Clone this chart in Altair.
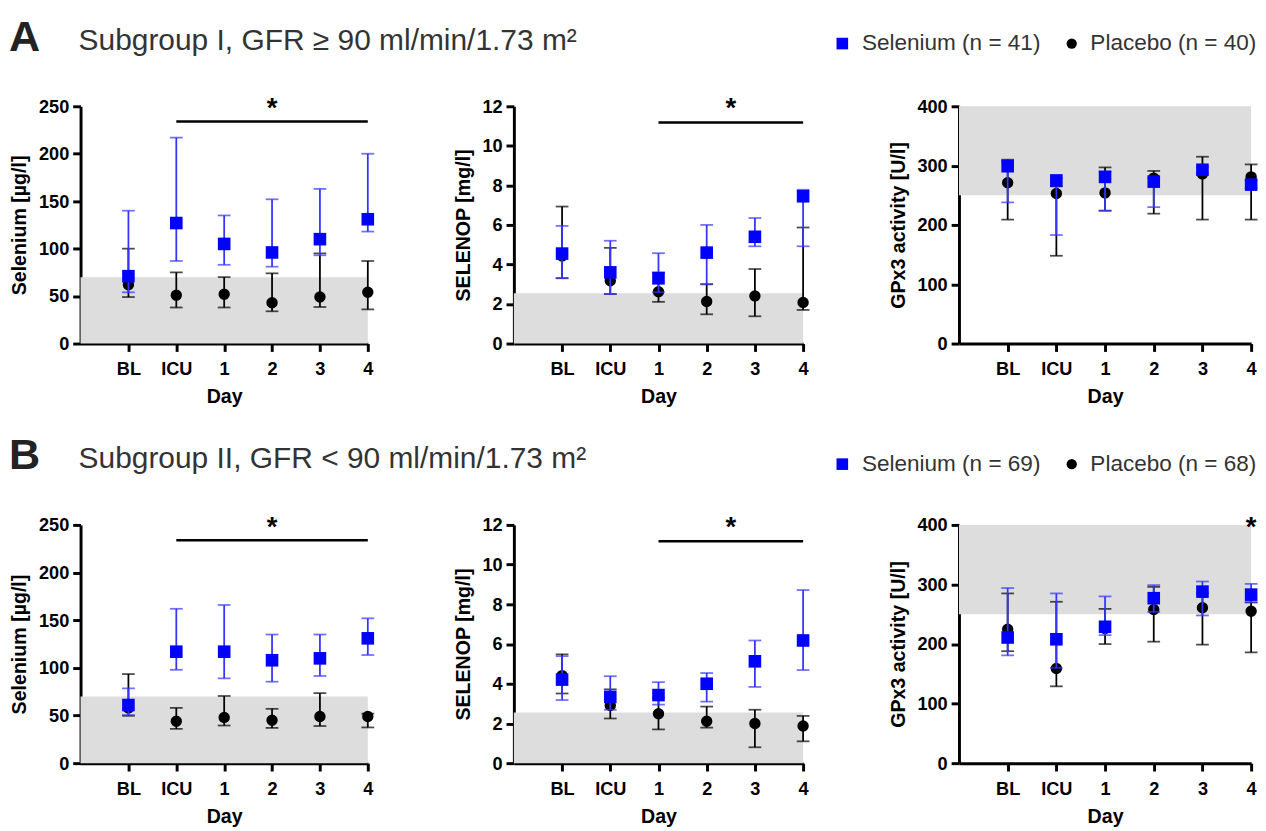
import altair as alt
import pandas as pd

# ---------------- data ----------------
days = ["BL", "ICU", "1", "2", "3", "4"]
day_pos = [1, 2, 3, 4, 5, 6]

# Subgroup I (GFR >= 90) ------------------------------------------
a_se_sel_med = [71, 127, 105, 96, 110, 131]
a_se_sel_lo = [54, 87, 83, 81, 93, 118]
a_se_sel_hi = [140, 217, 135, 152, 163, 200]
a_se_pla_med = [62, 51, 52, 43, 49, 54]
a_se_pla_lo = [49, 38, 38, 34, 38.5, 36]
a_se_pla_hi = [100, 75, 70, 74, 95, 87]

a_sp_sel_med = [4.55, 3.6, 3.3, 4.6, 5.4, 7.45]
a_sp_sel_lo = [3.3, 2.5, 2.6, 3.0, 4.92, 4.92]
a_sp_sel_hi = [5.95, 5.2, 4.57, 6.0, 6.35, 7.78]
a_sp_pla_med = [4.43, 3.18, 2.62, 2.13, 2.41, 2.08]
a_sp_pla_lo = [3.31, 2.5, 2.11, 1.48, 1.38, 1.7]
a_sp_pla_hi = [6.93, 4.84, 3.6, 3.0, 3.77, 5.87]

a_gp_sel_med = [299, 275, 281, 273, 293, 268]
a_gp_sel_lo = [238, 183, 224, 230, 288, 262]
a_gp_sel_hi = [306, 279, 290, 279, 298, 275]
a_gp_pla_med = [271, 253, 254, 279, 286, 281]
a_gp_pla_lo = [209, 148, 224, 219, 209, 209]
a_gp_pla_hi = [310, 265, 297, 291, 315, 302]

# Subgroup II (GFR < 90) ------------------------------------------
b_se_sel_med = [61, 117, 117, 108, 110, 131]
b_se_sel_lo = [50.5, 98, 89, 85.5, 91.5, 113.5]
b_se_sel_hi = [78.5, 162, 166, 135, 135, 152]
b_se_pla_med = [58, 44, 48, 45, 49, 49]
b_se_pla_lo = [49.7, 36, 39.5, 37, 39, 37.5]
b_se_pla_hi = [93.5, 58, 70.5, 57, 73.5, 52]

b_sp_sel_med = [4.21, 3.34, 3.43, 4.0, 5.13, 6.18]
b_sp_sel_lo = [3.18, 2.69, 2.95, 3.1, 3.84, 4.69]
b_sp_sel_hi = [5.39, 4.38, 4.08, 4.54, 6.18, 8.72]
b_sp_pla_med = [4.41, 2.9, 2.49, 2.11, 2.0, 1.87]
b_sp_pla_lo = [3.51, 2.25, 1.7, 1.79, 0.8, 1.1]
b_sp_pla_hi = [5.48, 3.72, 3.3, 2.85, 2.69, 2.38]

b_gp_sel_med = [211, 208, 229, 277, 288, 283]
b_gp_sel_lo = [181, 160, 215, 254, 248, 270]
b_gp_sel_hi = [294, 285, 280, 299, 305, 301]
b_gp_pla_med = [225, 159, 226, 258, 261, 255]
b_gp_pla_lo = [188, 129, 200, 204, 199, 186]
b_gp_pla_hi = [285, 271, 259, 296, 285, 270]

# axes / reference ranges (Selenium, SELENOP, GPx3)
y_titles = ["Selenium [µg/l]", "SELENOP [mg/l]", "GPx3 activity [U/l]"]
y_max = [250, 12, 400]
y_step = [50, 2, 100]
ref_lo = [0, 0, 250]
ref_hi = [70, 2.55, 400]

# significance annotations, order A1 A2 A3 B1 B2 B3
sig_from = [2, 3, None, 2, 3, None]
sig_to = [6, 6, None, 6, 6, None]
sig_level = [234, 11.18, None, 234, 11.18, None]
star_x = [4, 4.5, None, 4, 4.5, 6]

titles = ["Subgroup I, GFR ≥ 90 ml/min/1.73 m²", "Subgroup II, GFR < 90 ml/min/1.73 m²"]
letters = ["A", "B"]
sel_labels = ["Selenium (n = 41)", "Selenium (n = 69)"]
pla_labels = ["Placebo (n = 40)", "Placebo (n = 68)"]

# ---------------- style ----------------
FONT = "Liberation Sans"
BLUE = "#0000ff"
BLUE_BAR = "#3535ff"
BLACK = "#000000"
GRAY = "#dddddd"

label_expr = "[" + ",".join("'%s'" % d for d in [""] + days) + "][datum.value]"


def header_layers(r, base_y, legend_y):
    c = alt.Chart(pd.DataFrame({"k": [0]}))
    return [
        c.mark_text(text=letters[r], font=FONT, fontSize=44, fontWeight="bold", color="#222222",
                    align="left", baseline="alphabetic").encode(x=alt.value(-73), y=alt.value(base_y)),
        c.mark_text(text=titles[r], font=FONT, fontSize=30.5, color="#333333",
                    align="left", baseline="alphabetic").encode(x=alt.value(-2), y=alt.value(base_y - 1)),
        c.mark_point(shape="square", filled=True, size=140, color=BLUE, opacity=1)
        .encode(x=alt.value(777), y=alt.value(legend_y)),
        c.mark_text(text=sel_labels[r], font=FONT, fontSize=23, color="#333333",
                    align="left", baseline="middle").encode(x=alt.value(797), y=alt.value(legend_y)),
        c.mark_point(shape="circle", filled=True, size=110, color=BLACK, opacity=1)
        .encode(x=alt.value(1011), y=alt.value(legend_y)),
        c.mark_text(text=pla_labels[r], font=FONT, fontSize=23, color="#333333",
                    align="left", baseline="middle").encode(x=alt.value(1030), y=alt.value(legend_y)),
    ]


def panel(k, sel, pla, idx, width, height, extra=None):
    ymax = y_max[k]
    ticks = list(range(0, ymax + 1, y_step[k]))
    xs = alt.Scale(domain=[0, 6], nice=False, zero=False)
    ys = alt.Scale(domain=[0, ymax], nice=False, zero=True)
    xa = alt.Axis(values=day_pos, labelExpr=label_expr, title="Day", titlePadding=9, labelPadding=9)
    ya = alt.Axis(values=ticks, title=y_titles[k], titlePadding=9, labelPadding=4)

    def X(f):
        return alt.X(f, type="quantitative", scale=xs, axis=xa)

    def Y(f):
        return alt.Y(f, type="quantitative", scale=ys, axis=ya)

    ref = pd.DataFrame({"x": [0], "x2": [6], "y": [ref_lo[k]], "y2": [ref_hi[k]]})
    layers = [
        alt.Chart(ref).mark_rect(color=GRAY).encode(x=X("x"), x2="x2", y=Y("y"), y2="y2")
    ]
    for (med, lo, hi), bar_c, pt_c, shape, size in [
        (pla, BLACK, BLACK, "circle", 135),
        (sel, BLUE_BAR, BLUE, "square", 165),
    ]:
        df = pd.DataFrame({"x": day_pos, "med": med, "lo": lo, "hi": hi})
        base = alt.Chart(df)
        layers += [
            base.mark_rule(color=bar_c, strokeWidth=1.8).encode(x=X("x"), y=Y("lo"), y2="hi"),
            base.mark_tick(orient="horizontal", color=bar_c, size=13, thickness=1.8).encode(x=X("x"), y=Y("lo")),
            base.mark_tick(orient="horizontal", color=bar_c, size=13, thickness=1.8).encode(x=X("x"), y=Y("hi")),
            base.mark_point(shape=shape, filled=True, size=size, color=pt_c, opacity=1).encode(x=X("x"), y=Y("med")),
        ]
    if sig_from[idx] is not None:
        sd = pd.DataFrame({"x": [sig_from[idx]], "x2": [sig_to[idx]], "y": [sig_level[idx]]})
        layers.append(
            alt.Chart(sd).mark_rule(color=BLACK, strokeWidth=2.5).encode(x=X("x"), x2="x2", y=Y("y"))
        )
    if star_x[idx] is not None:
        st = pd.DataFrame({"x": [star_x[idx]], "y": [ymax]})
        layers.append(
            alt.Chart(st).mark_text(text="*", font=FONT, fontSize=28, fontWeight="bold",
                                    color=BLACK, baseline="alphabetic", align="center", dy=11)
            .encode(x=X("x"), y=Y("y"))
        )
    if extra:
        layers += extra
    return alt.layer(*layers).properties(width=width, height=height)


def row(r, data, H, base_y, legend_y):
    p = []
    for k, w in zip(range(3), [293, 295, 298]):
        extra = header_layers(r, base_y, legend_y) if k == 0 else None
        p.append(panel(k, data[k][0], data[k][1], 3 * r + k, w, H, extra))
    return alt.hconcat(p[0], alt.hconcat(p[1], p[2], spacing=159, bounds="flush"),
                       spacing=149, bounds="flush")


dataA = [
    ((a_se_sel_med, a_se_sel_lo, a_se_sel_hi), (a_se_pla_med, a_se_pla_lo, a_se_pla_hi)),
    ((a_sp_sel_med, a_sp_sel_lo, a_sp_sel_hi), (a_sp_pla_med, a_sp_pla_lo, a_sp_pla_hi)),
    ((a_gp_sel_med, a_gp_sel_lo, a_gp_sel_hi), (a_gp_pla_med, a_gp_pla_lo, a_gp_pla_hi)),
]
dataB = [
    ((b_se_sel_med, b_se_sel_lo, b_se_sel_hi), (b_se_pla_med, b_se_pla_lo, b_se_pla_hi)),
    ((b_sp_sel_med, b_sp_sel_lo, b_sp_sel_hi), (b_sp_pla_med, b_sp_pla_lo, b_sp_pla_hi)),
    ((b_gp_sel_med, b_gp_sel_lo, b_gp_sel_hi), (b_gp_pla_med, b_gp_pla_lo, b_gp_pla_hi)),
]

chart = alt.vconcat(
    row(0, dataA, 242, -56, -64),
    row(1, dataB, 243, -57, -62),
    spacing=28,
).properties(
    padding={"left": 1, "top": 1, "right": 0, "bottom": 0}
).configure_view(
    stroke=None
).configure_axis(
    grid=False, labelFlush=False,
    domainColor=BLACK, domainWidth=3,
    tickColor=BLACK, tickWidth=3, tickSize=8,
    labelFont=FONT, labelFontSize=18.5, labelFontWeight="bold", labelColor=BLACK, labelPadding=8,
    titleFont=FONT, titleFontSize=20, titleFontWeight="bold", titleColor=BLACK,
)

chart.save("out.html", embed_options={"renderer": "svg", "actions": False})
